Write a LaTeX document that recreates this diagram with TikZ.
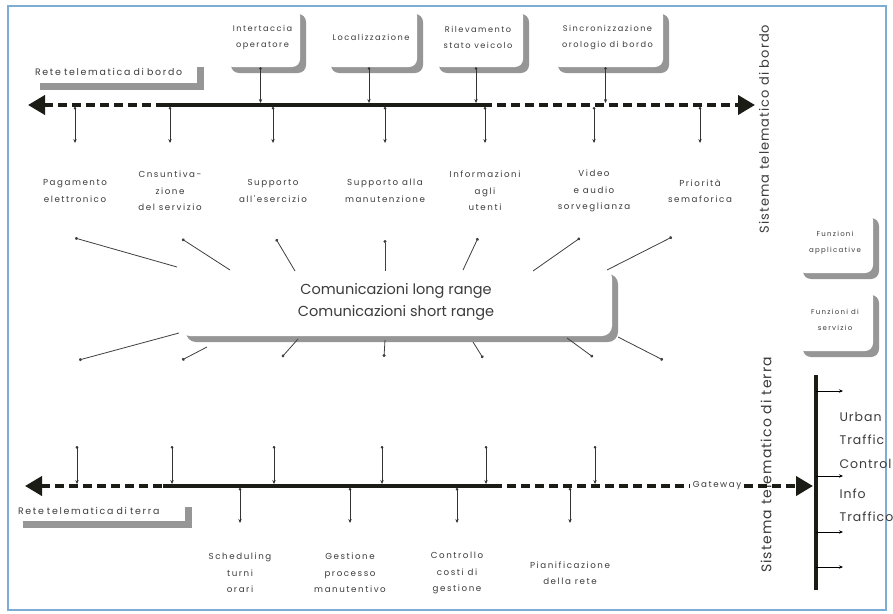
\documentclass[tikz,border=0pt]{standalone}
\usepackage{fontspec}
\setmainfont{Poppins}
\newfontfamily\widefont[LetterSpace=18]{Poppins}
\newfontfamily\midfont[LetterSpace=8]{Poppins}
\usetikzlibrary{arrows.meta,shadows,calc,positioning}
\definecolor{framebl}{RGB}{125,172,212}
\definecolor{shadegray}{RGB}{150,150,150}
\definecolor{busblack}{RGB}{28,28,22}
\definecolor{inkgray}{RGB}{60,60,60}

\begin{document}
\begin{tikzpicture}[x=1pt, y=-1pt, >=Stealth,
    panel/.style={fill=white, rounded corners=8pt, align=center, inner sep=2pt,
                  text=inkgray, font=\widefont\fontsize{8.2}{16}\selectfont,
                  drop shadow={shadow xshift=6pt, shadow yshift=-6pt,
                               fill=shadegray, opacity=1}},
    tag/.style={fill=white, inner sep=1pt, align=left, text=inkgray,
                font=\widefont\fontsize{9.4}{11}\selectfont,
                drop shadow={shadow xshift=7pt, shadow yshift=-7pt,
                             fill=shadegray, opacity=1}},
    lbl/.style={align=center, text=inkgray,
                font=\widefont\fontsize{8.7}{16.5}\selectfont},
    vlabel/.style={rotate=90, text=inkgray, font=\midfont\fontsize{13}{15}\selectfont},
    utc/.style={align=left, anchor=west, text=inkgray,
                font=\midfont\fontsize{12.5}{23.5}\selectfont},
    busdash/.style={line width=4pt, draw=busblack, dash pattern=on 9pt off 5pt},
    bussolid/.style={line width=4.5pt, draw=busblack},
    bigtip/.tip={Triangle[length=17pt,width=19pt]},
    link/.style={line width=0.7pt, draw=black!80,
                 {Circle[length=2.6pt]}-{Stealth[length=4pt,width=3.4pt]}},
    ray/.style={line width=0.8pt, draw=black!75, {Circle[length=3pt]}-}
  ]
  \fill[white] (0,0) rectangle (893,613);
  \useasboundingbox (0,0) rectangle (893,613);
  \draw[framebl, line width=1.5pt] (8,6) rectangle (886,610);

  % rete di bordo
  \coordinate (bL) at (28,105);
  \coordinate (bA) at (163,105);
  \coordinate (bB) at (483,105);
  \coordinate (bR) at (755,105);
  \draw[busdash, bigtip-] (bL) -- (bA);
  \draw[bussolid] (bA) -- (bB);
  \draw[busdash, -bigtip] (bB) -- (bR);

  \node[tag, minimum width=164pt, minimum height=23pt, text width=160pt]
    (rbordo) at (115,71.5) {Rete telematica di bordo};

  \node[panel, minimum width=75pt, minimum height=59pt] (intf) at (262.5,37.5)
    {Intertaccia\\operatore};
  \node[panel, minimum width=92pt, minimum height=59pt] (loc) at (371,37.5)
    {Localizzazione};
  \node[panel, minimum width=90pt, minimum height=59pt] (ril) at (478,37.5)
    {Rilevamento\\stato veicolo};
  \node[panel, minimum width=111pt, minimum height=59pt] (sinc) at (607.5,37.5)
    {Sincronizzazione\\orologio di bordo};

  \foreach \b in {intf,loc,ril,sinc}
    \draw[link, shorten >=2pt] ($(\b.south)+(-2,0)$) -- ($(\b.south |- bL)+(-2,0)$);

  % funzioni di bordo
  \foreach \n/\x/\t in {pag/75/{Pagamento\\elettronico},
                        cons/170/{Cnsuntiva-\\zione\\del servizio},
                        sese/273/{Supporto\\all'esercizio},
                        sman/385/{Supporto alla\\manutenzione},
                        info/485/{Informazioni\\agli\\utenti},
                        video/594/{Video\\e audio\\sorveglianza},
                        prio/700/{Priorità\\semaforica}}
  {
    \node[lbl] (\n) at (\x,191) {\t};
    \coordinate (\n-tip) at (\x,143);
    \draw[link, shorten <=2pt] (\n-tip |- bL) -- (\n-tip);
  }

  % comunicazioni
  \node[panel, minimum width=432pt, minimum height=68pt, rounded corners=10pt,
        font=\fontsize{14.5}{22}\selectfont] (comm) at (396,302)
    {Comunicazioni long range\\Comunicazioni short range};

  \foreach \i/\ox/\oy/\ix/\iy in {1/75/238/177/267, 2/182/239/230/270,
                                  3/276/239/295/271, 4/385/240/385/271,
                                  5/478/238/463/270, 6/580/238/533/271,
                                  7/672/237/607/270,
                                  8/79/360/179/333, 9/182/360/207/347,
                                  10/282/357/298/339, 11/384/357/385/340,
                                  12/483/358/473/342, 13/593/357/567/338,
                                  14/663/360/618/337}
  {
    \coordinate (out\i) at (\ox,\oy);
    \coordinate (in\i) at (\ix,\iy);
    \draw[ray] (out\i) -- (in\i);
  }

  \node[vlabel] (sbordo) at (764,129) {Sistema telematico di bordo};
  \node[vlabel, font=\midfont\fontsize{14}{16}\selectfont] (sterra) at (766,465)
    {Sistema telematico di terra};

  \node[panel, minimum width=76pt, minimum height=61pt,
        font=\widefont\fontsize{7}{16}\selectfont] (fapp) at (835,242.5)
    {Funzioni\\applicative};
  \node[panel, minimum width=76pt, minimum height=62pt,
        font=\widefont\fontsize{7}{16}\selectfont] (fserv) at (835,320)
    {Funzioni di\\servizio};

  % rete di terra
  \coordinate (tL) at (25,486);
  \coordinate (tA) at (163,486);
  \coordinate (tB) at (493,486);
  \coordinate (tR) at (813,486);
  \node[lbl, fill=white, inner sep=3pt] (gw) at (717,486) {Gateway};
  \draw[busdash, bigtip-] (tL) -- (tA);
  \draw[bussolid] (tA) -- (tB);
  \draw[busdash] (tB) -- (gw.west);
  \draw[busdash, -bigtip] (gw.east) -- (tR);

  \node[tag, minimum width=169pt, minimum height=21pt, text width=165pt]
    (rterra) at (100.5,510.5) {Rete telematica di terra};

  \foreach \x in {77,172,274,382,486,595}
  {
    \coordinate (up\x) at (\x,446);
    \draw[link, shorten >=2pt] (up\x) -- (up\x |- tL);
  }

  \foreach \n/\x/\t in {sched/240/{Scheduling\\turni\\orari},
                        gest/350/{Gestione\\processo\\manutentivo},
                        costi/457/{Controllo\\costi di\\gestione},
                        pian/570/{Pianificazione\\della rete}}
  {
    \node[lbl] (\n) at (\x,573) {\t};
    \coordinate (\n-tip) at (\x,523);
    \draw[link, shorten <=2pt] (\n-tip |- tL) -- (\n-tip);
  }

  % traffico urbano
  \coordinate (vT) at (816,375);
  \coordinate (vB) at (816,590);
  \draw[line width=3.5pt, draw=busblack] (vT) -- (vB);
  \foreach \y in {391,476,532,567}
  {
    \coordinate (br\y) at (843,\y);
    \draw[line width=0.7pt, -{Stealth[length=4pt,width=3.4pt]}] (vT |- br\y) -- (br\y);
  }
  \node[utc] (urb) at (836,440) {Urban\\Traffic\\Control};
  \node[utc] (inft) at (836,505.5) {Info\\Traffico};
\end{tikzpicture}
\end{document}
